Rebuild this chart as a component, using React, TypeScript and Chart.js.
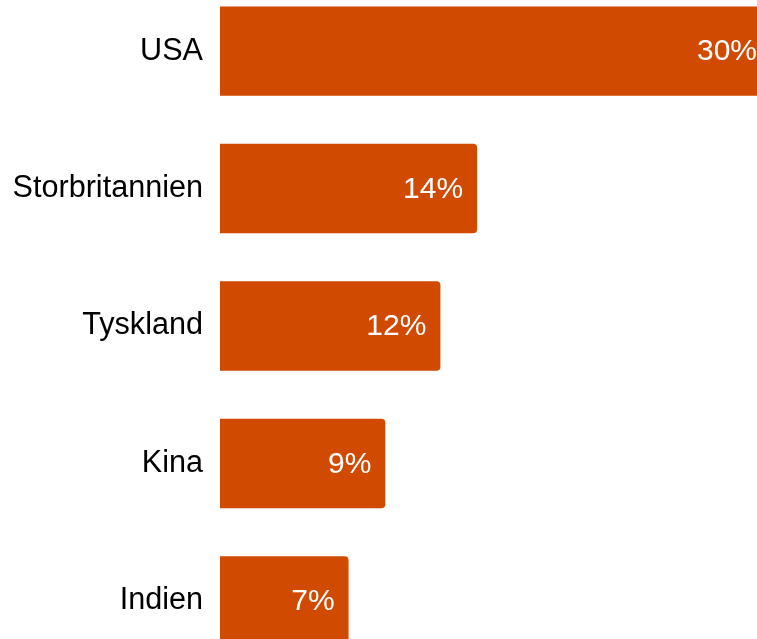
import React, { useEffect, useRef } from "react";
import { Chart, registerables } from "chart.js";

Chart.register(...registerables);

const categories: string[] = ["USA", "Storbritannien", "Tyskland", "Kina", "Indien"];
const shares: number[] = [30, 14, 12, 9, 7];
const valueLabels: string[] = ["30%", "14%", "12%", "9%", "7%"];

const BAR_COLOR = "#D04A02";
const FONT = "'Liberation Sans', Arial, sans-serif";

const valueLabelPlugin = {
  id: "valueLabels",
  afterDatasetsDraw(chart: any) {
    const ctx = chart.ctx;
    const meta = chart.getDatasetMeta(0);
    ctx.save();
    ctx.fillStyle = "#ffffff";
    ctx.font = `30px ${FONT}`;
    ctx.textAlign = "right";
    ctx.textBaseline = "middle";
    meta.data.forEach((bar: any, i: number) => {
      ctx.fillText(valueLabels[i], bar.x - 14, bar.y + 1);
    });
    ctx.restore();
  },
};

export default function App() {
  const canvasRef = useRef<HTMLCanvasElement | null>(null);

  useEffect(() => {
    if (!canvasRef.current) return;
    const chart = new Chart(canvasRef.current, {
      type: "bar",
      data: {
        labels: categories,
        datasets: [
          {
            data: shares,
            backgroundColor: BAR_COLOR,
            borderWidth: 0,
            borderRadius: 4,
            borderSkipped: "start",
            categoryPercentage: 1,
            barPercentage: 0.65,
          },
        ],
      },
      options: {
        indexAxis: "y",
        responsive: false,
        animation: false,
        devicePixelRatio: 1,
        layout: { padding: 0 },
        plugins: {
          legend: { display: false },
          tooltip: { enabled: false },
        },
        scales: {
          x: {
            display: false,
            min: 0,
            max: 30,
          },
          y: {
            grid: { display: false, drawTicks: false },
            border: { display: false },
            ticks: {
              color: "#000000",
              font: { family: FONT, size: 30.6 },
              padding: 17,
            },
            afterFit(scale: any) {
              scale.width = 220;
            },
          },
        },
      },
      plugins: [valueLabelPlugin],
    });
    return () => chart.destroy();
  }, []);

  return (
    <div
      style={{
        position: "fixed",
        top: 0,
        left: 0,
        width: 757,
        height: 639,
        overflow: "hidden",
        background: "#ffffff",
      }}
    >
      <canvas
        ref={canvasRef}
        width={771}
        height={758}
        style={{ position: "absolute", top: -53, left: 0, width: 771, height: 758 }}
      />
    </div>
  );
}
